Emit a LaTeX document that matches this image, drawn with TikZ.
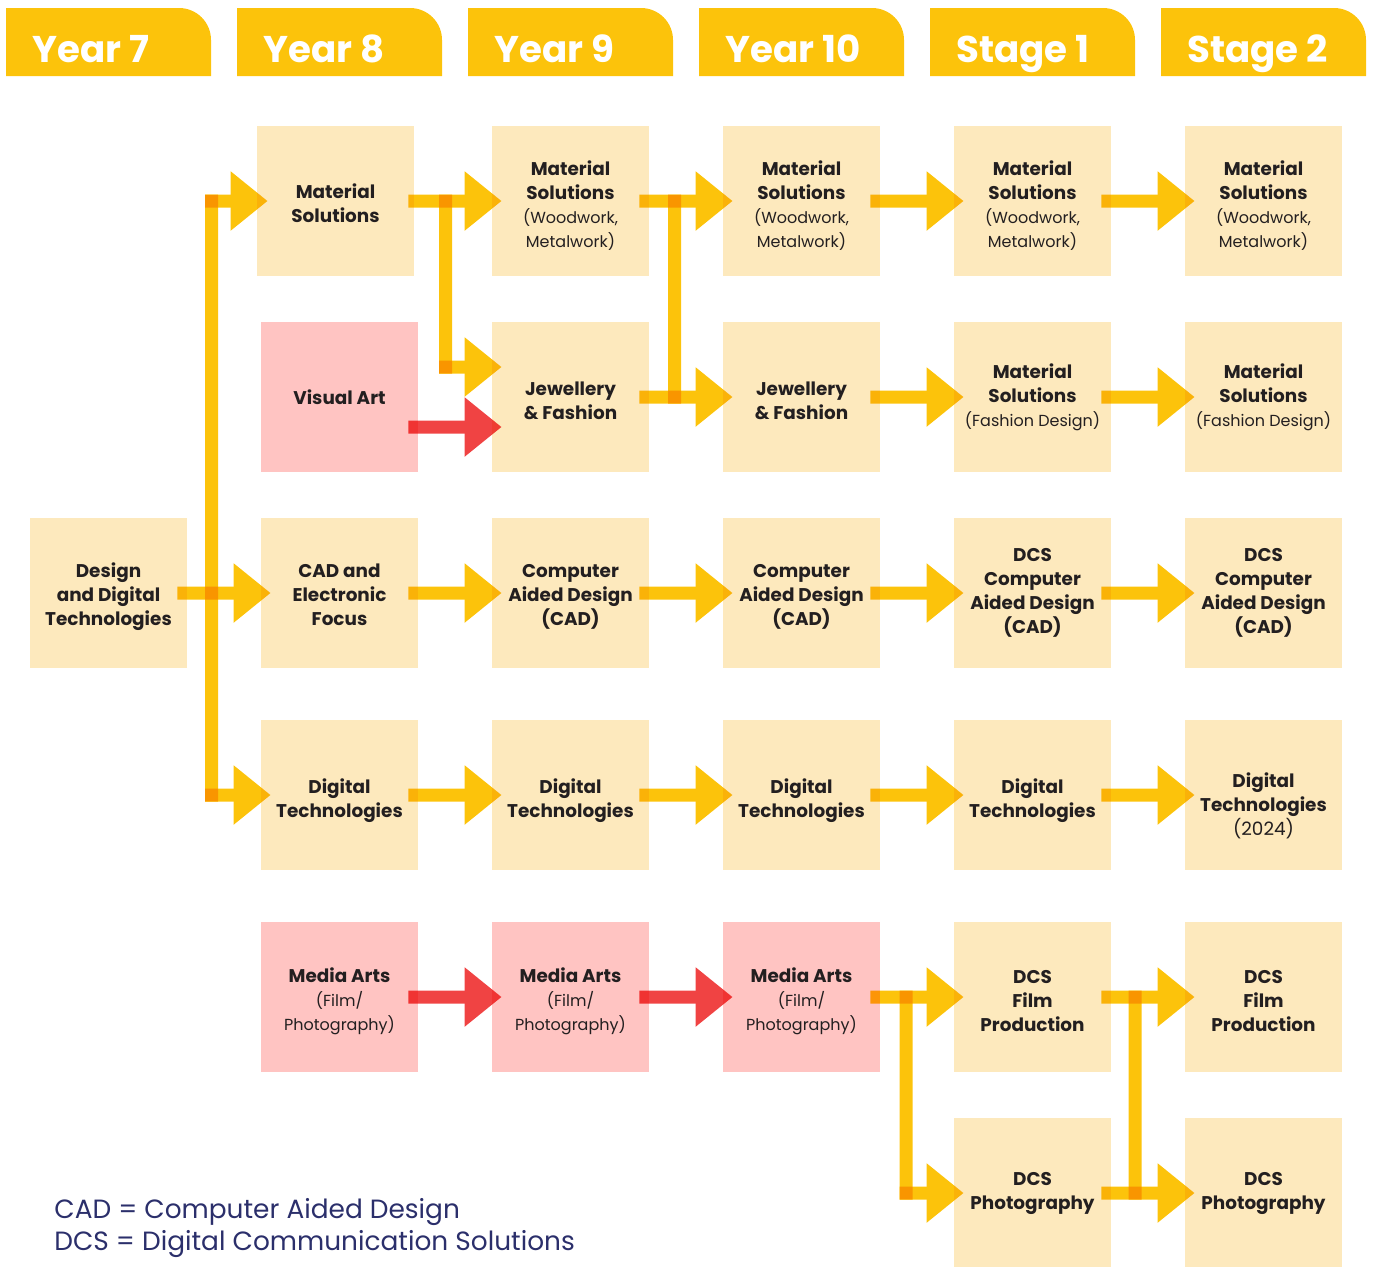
\documentclass[tikz,border=0pt]{standalone}
\usepackage{fontspec}
\setmainfont{Poppins}
\usepackage{tikz}
\usetikzlibrary{arrows.meta}

\definecolor{boxfill}{HTML}{FDE9BD}
\definecolor{artfill}{HTML}{FFC4C2}
\definecolor{flowyellow}{HTML}{FCC30B}
\definecolor{flowred}{HTML}{F04343}
\definecolor{ink}{HTML}{231F20}
\definecolor{legendblue}{HTML}{2B2F6B}

\newcommand{\regtext}[1]{{\mdseries\fontsize{8}{12}\selectfont #1}}
\newcommand{\padtop}[1]{\rule{0pt}{#1}}
\newcommand{\flow}[2]{\begin{scope}[transparency group, blend mode=multiply]\draw[#1] #2;\end{scope}}

\tikzset{
  box/.style={fill=boxfill, minimum width=78.5pt, minimum height=75pt, inner sep=0pt,
    align=center, text=ink, font=\bfseries\fontsize{9.2}{12}\selectfont},
  artbox/.style={box, fill=artfill},
  tab/.style={fill=flowyellow},
  yeartxt/.style={anchor=base west, inner sep=0pt, text=white, font=\bfseries\fontsize{18.6}{22}\selectfont},
  yarrow/.style={draw=flowyellow, line width=6.5pt, -{Triangle[length=18.5pt, width=28.5pt]}},
  rarrow/.style={yarrow, draw=flowred},
  stub/.style={yarrow, line cap=rect},
  bar/.style={draw=flowyellow, line width=6.5pt, line cap=rect},
  legend/.style={anchor=base west, inner sep=0pt, text=legendblue, font=\fontsize{13.2}{16}\selectfont}
}

\begin{document}
\begin{tikzpicture}[x=0.5pt, y=-0.5pt]
\useasboundingbox (0,0) rectangle (1375,1266);

% year tabs
\foreach \x/\lbl in {6/Year 7, 237/Year 8, 468/Year 9, 699/Year 10, 930/Stage 1, 1161/Stage 2} {
  \fill[tab] (\x,76) -- (\x,8) -- (\x+173,8) .. controls (\x+190.7,8) and (\x+205,22.3) .. (\x+205,40) -- (\x+205,76) -- cycle;
  \node[yeartxt] (head\x) at (\x+26,62) {\lbl};
}

% Year 7
\node[box] (design) at (108.5,593) {\padtop{10.8pt}Design\\and Digital\\Technologies};

% Year 8
\node[box] (ms8) at (335.5,201) {\padtop{9.8pt}Material\\Solutions};
\node[artbox] (va8) at (339.5,397) {Visual Art};
\node[box] (cad8) at (339.5,593) {\padtop{8.8pt}CAD and\\Electronic\\Focus};
\node[box] (dt8) at (339.5,795) {\padtop{12.8pt}Digital\\Technologies};
\node[artbox] (ma8) at (339.5,997) {\padtop{11.8pt}Media Arts\\\regtext{(Film/}\\\regtext{Photography)}};

% Year 9
\node[box] (ms9) at (570.5,201) {\padtop{11.8pt}Material\\Solutions\\\regtext{(Woodwork,}\\\regtext{Metalwork)}};
\node[box] (jf9) at (570.5,397) {\padtop{10.8pt}Jewellery\\\& Fashion};
\node[box] (cad9) at (570.5,593) {\padtop{10.8pt}Computer\\Aided Design\\(CAD)};
\node[box] (dt9) at (570.5,795) {\padtop{12.8pt}Digital\\Technologies};
\node[artbox] (ma9) at (570.5,997) {\padtop{11.8pt}Media Arts\\\regtext{(Film/}\\\regtext{Photography)}};

% Year 10
\node[box] (ms10) at (801.5,201) {\padtop{11.8pt}Material\\Solutions\\\regtext{(Woodwork,}\\\regtext{Metalwork)}};
\node[box] (jf10) at (801.5,397) {\padtop{10.8pt}Jewellery\\\& Fashion};
\node[box] (cad10) at (801.5,593) {\padtop{10.8pt}Computer\\Aided Design\\(CAD)};
\node[box] (dt10) at (801.5,795) {\padtop{12.8pt}Digital\\Technologies};
\node[artbox] (ma10) at (801.5,997) {\padtop{11.8pt}Media Arts\\\regtext{(Film/}\\\regtext{Photography)}};

% Stage 1
\node[box] (ms1) at (1032.5,201) {\padtop{11.8pt}Material\\Solutions\\\regtext{(Woodwork,}\\\regtext{Metalwork)}};
\node[box] (msf1) at (1032.5,397) {Material\\Solutions\\\regtext{(Fashion Design)}};
\node[box] (cad1) at (1032.5,593) {DCS\\Computer\\Aided Design\\(CAD)};
\node[box] (dt1) at (1032.5,795) {\padtop{12.8pt}Digital\\Technologies};
\node[box] (film1) at (1032.5,997) {\padtop{10.8pt}DCS\\Film\\Production};
\node[box] (photo1) at (1032.5,1193) {DCS\\Photography};

% Stage 2
\node[box] (ms2) at (1263.5,201) {\padtop{11.8pt}Material\\Solutions\\\regtext{(Woodwork,}\\\regtext{Metalwork)}};
\node[box] (msf2) at (1263.5,397) {Material\\Solutions\\\regtext{(Fashion Design)}};
\node[box] (cad2) at (1263.5,593) {DCS\\Computer\\Aided Design\\(CAD)};
\node[box] (dt2) at (1263.5,795) {\padtop{17.8pt}Digital\\Technologies\\{\mdseries (2024)}};
\node[box] (film2) at (1263.5,997) {\padtop{10.8pt}DCS\\Film\\Production};
\node[box] (photo2) at (1263.5,1193) {DCS\\Photography};

% branch lines
\coordinate (trunk) at (211.5,0);
\coordinate (fork) at (445.5,0);
\coordinate (forkend) at (445.5,367);
\coordinate (link9) at (674.5,0);
\coordinate (drop) at (906,0);
\coordinate (link1) at (1135,0);

% Year 7 -> Year 8
\flow{bar}{(trunk |- ms8) -- (trunk |- dt8)}
\flow{stub}{(trunk |- ms8) -- ([xshift=5.5pt]ms8.west)}
\flow{stub}{(trunk |- dt8) -- ([xshift=5pt]dt8.west)}
\flow{yarrow}{([xshift=-5pt]design.east) -- ([xshift=5pt]cad8.west)}

% Year 8 -> Year 9
\flow{yarrow}{([xshift=-3pt]ms8.east) -- ([xshift=5pt]ms9.west)}
\flow{bar}{(fork |- ms9) -- (forkend)}
\flow{stub}{(forkend) -- ([xshift=5pt]jf9.west |- forkend)}
\flow{rarrow}{([xshift=-5pt,yshift=-15pt]va8.east) -- ([xshift=5pt,yshift=-15pt]jf9.west)}
\flow{yarrow}{([xshift=-5pt]cad8.east) -- ([xshift=5pt]cad9.west)}
\flow{yarrow}{([xshift=-5pt]dt8.east) -- ([xshift=5pt]dt9.west)}
\flow{rarrow}{([xshift=-5pt]ma8.east) -- ([xshift=5pt]ma9.west)}

% Year 9 -> Year 10
\flow{yarrow}{([xshift=-5pt]ms9.east) -- ([xshift=5pt]ms10.west)}
\flow{bar}{(link9 |- ms10) -- (link9 |- jf10)}
\flow{yarrow}{([xshift=-5pt]jf9.east) -- ([xshift=5pt]jf10.west)}
\flow{yarrow}{([xshift=-5pt]cad9.east) -- ([xshift=5pt]cad10.west)}
\flow{yarrow}{([xshift=-5pt]dt9.east) -- ([xshift=5pt]dt10.west)}
\flow{rarrow}{([xshift=-5pt]ma9.east) -- ([xshift=5pt]ma10.west)}

% Year 10 -> Stage 1
\flow{yarrow}{([xshift=-5pt]ms10.east) -- ([xshift=5pt]ms1.west)}
\flow{yarrow}{([xshift=-5pt]jf10.east) -- ([xshift=5pt]msf1.west)}
\flow{yarrow}{([xshift=-5pt]cad10.east) -- ([xshift=5pt]cad1.west)}
\flow{yarrow}{([xshift=-5pt]dt10.east) -- ([xshift=5pt]dt1.west)}
\flow{yarrow}{([xshift=-5pt]ma10.east) -- ([xshift=5pt]film1.west)}
\flow{bar}{(drop |- film1) -- (drop |- photo1)}
\flow{stub}{(drop |- photo1) -- ([xshift=5pt]photo1.west)}

% Stage 1 -> Stage 2
\flow{yarrow}{([xshift=-5pt]ms1.east) -- ([xshift=5pt]ms2.west)}
\flow{yarrow}{([xshift=-5pt]msf1.east) -- ([xshift=5pt]msf2.west)}
\flow{yarrow}{([xshift=-5pt]cad1.east) -- ([xshift=5pt]cad2.west)}
\flow{yarrow}{([xshift=-5pt]dt1.east) -- ([xshift=5pt]dt2.west)}
\flow{yarrow}{([xshift=-5pt]film1.east) -- ([xshift=5pt]film2.west)}
\flow{yarrow}{([xshift=-5pt]photo1.east) -- ([xshift=5pt]photo2.west)}
\flow{bar}{(link1 |- film2) -- (link1 |- photo2)}

% key
\node[legend] (cadkey) at (54,1218) {CAD = Computer Aided Design};
\node[legend] (dcskey) at (54,1250) {DCS = Digital Communication Solutions};
\end{tikzpicture}
\end{document}
